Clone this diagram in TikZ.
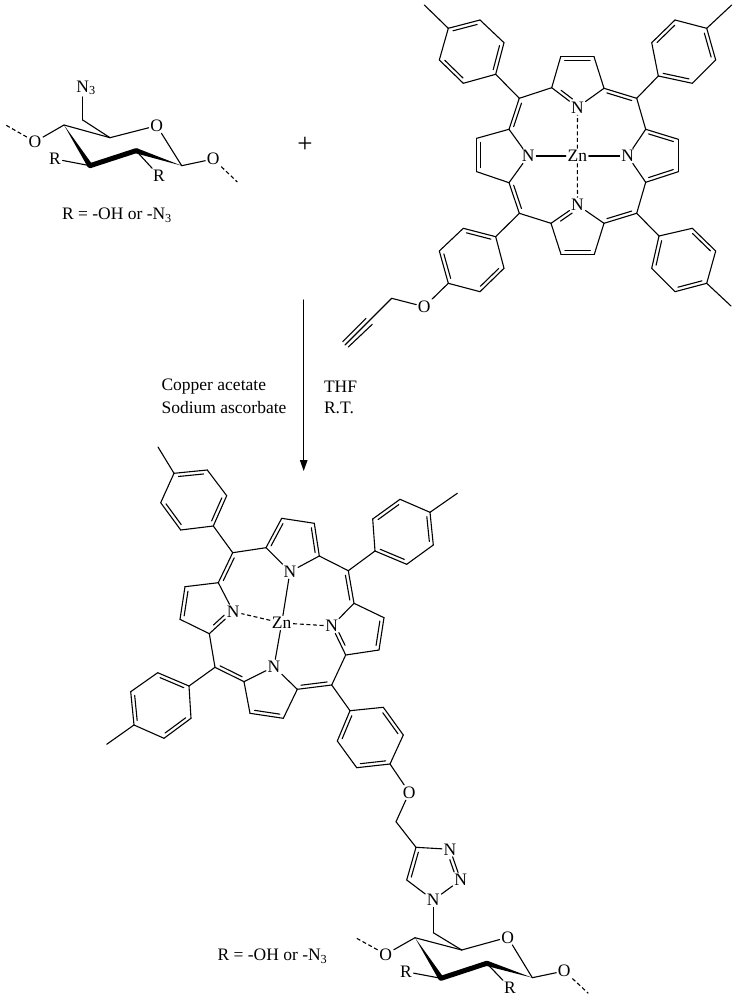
\documentclass[tikz,border=0pt]{standalone}
\usepackage{fontspec}
\setmainfont{Liberation Serif}
\usepackage{tikz}
\usetikzlibrary{arrows.meta, calc}

\tikzset{
	atom/.style={inner sep=1.2pt, font=\fontsize{17.5}{20}\selectfont},
	label text/.style={inner sep=0pt, anchor=west, font=\fontsize{17.5}{20}\selectfont},
	dash bond/.style={line cap=butt, dash pattern=on 4pt off 2.6pt},
	bold bond/.style={line width=5pt, line cap=round},
}
\newcommand{\dbond}[3][.12]{
	\draw (#2) -- (#3);
	\draw ($(#2)!#1!(#3)!3.6pt!-90:(#3)$) -- ($(#3)!#1!(#2)!3.6pt!90:(#2)$);
}
\newcommand{\wedgebond}[2]{
	\fill (#1) -- ($(#2)!2.6pt!90:(#1)$) -- ($(#2)!2.6pt!-90:(#1)$) -- cycle;
}

\begin{document}
\begin{tikzpicture}[x=1pt, y=-1pt, line width=1.1pt, line cap=round, line join=round]
		\useasboundingbox (0,0) rectangle (739,1000);

		% Azido sugar
		\coordinate (sC1) at (181.7,165.7);
		\coordinate (sC2) at (136,150.7);
		\coordinate (sC3) at (90,165.7);
		\coordinate (sC4) at (64,125);
		\coordinate (sC5) at (110,137.7);
		\coordinate (sC6) at (82.7,120);
		\coordinate (sEndL) at (5.7,125);
		\coordinate (sEndR) at (237.3,182);
		\node[atom] (sN3) at (86,88) {N\textsubscript{3}};
		\node[atom] (sO) at (156.7,125.7) {O};
		\node[atom] (sOL) at (35,141.7) {O};
		\node[atom] (sOR) at (213.3,159) {O};
		\node[atom] (sRL) at (55,159) {R};
		\node[atom] (sRR) at (159,175.7) {R};

		\draw (sC6) -- (sC6 |- sN3.south);
		\draw (sC6) -- (sC5);
		\draw (sC4) -- (sC5);
		\draw (sC5) -- (sO);
		\draw (sO) -- (sC1);
		\draw (sC4) -- (sOL);
		\draw (sC1) -- (sOR);
		\draw (sC3) -- (sRL);
		\draw (sC2) -- (sRR);
		\draw[dash bond] (sOL) -- (sEndL);
		\draw[dash bond] (sOR) -- (sEndR);
		\wedgebond{sC4}{sC3}
		\wedgebond{sC1}{sC2}
		\draw[bold bond] (sC3) -- (sC2);

		\node[label text] (sLegend) at (61.5,215) {R = -OH or -N\textsubscript{3}};
		\node[atom, font=\fontsize{27}{27}\selectfont] (plus) at (305,145) {+};

		% Zinc porphyrin
		\node[atom] (Zn) at (577.3,156) {Zn};
		\node[atom] (NN) at (577.5,107.3) {N};
		\node[atom] (NE) at (627.7,156) {N};
		\node[atom] (NS) at (577.5,205) {N};
		\node[atom] (NW) at (528.3,156) {N};
		\coordinate (mNW) at (519.3,98.3);
		\coordinate (mNE) at (636.7,98.3);
		\coordinate (mSE) at (636.7,213.3);
		\coordinate (mSW) at (519.3,213.3);
		\coordinate (pNa) at (551.7,87.7);
		\coordinate (pNb) at (560.7,56.7);
		\coordinate (pNc) at (594,56.7);
		\coordinate (pNd) at (604,88.3);
		\coordinate (pEa) at (645.7,129.3);
		\coordinate (pEb) at (678.3,139.3);
		\coordinate (pEc) at (678.3,171.7);
		\coordinate (pEd) at (645.7,182.3);
		\coordinate (pSa) at (604,223.3);
		\coordinate (pSb) at (594.3,254.3);
		\coordinate (pSc) at (561,254.3);
		\coordinate (pSd) at (551,223.3);
		\coordinate (pWa) at (509,182.7);
		\coordinate (pWb) at (476.7,171.7);
		\coordinate (pWc) at (476.7,138.3);
		\coordinate (pWd) at (509,129.3);

		\draw (Zn) -- (NE);
		\draw (Zn) -- (NW);
		\draw[dash bond] (Zn) -- (NN);
		\draw[dash bond] (Zn) -- (NS);

		\dbond[.28]{NN}{pNa}
		\draw (pNa) -- (pNb);
		\dbond{pNb}{pNc}
		\draw (pNc) -- (pNd);
		\draw (pNd) -- (NN);
		\draw (pEa) -- (NE);
		\dbond{pEa}{pEb}
		\draw (pEb) -- (pEc);
		\dbond{pEc}{pEd}
		\draw (pEd) -- (NE);
		\draw (pSa) -- (NS);
		\draw (pSa) -- (pSb);
		\dbond{pSb}{pSc}
		\draw (pSc) -- (pSd);
		\dbond[.28]{pSd}{NS}
		\draw (pWa) -- (NW);
		\draw (pWa) -- (pWb);
		\dbond{pWb}{pWc}
		\draw (pWc) -- (pWd);
		\draw (pWd) -- (NW);

		\dbond{pWd}{mNW}
		\draw (mNW) -- (pNa);
		\dbond{pNd}{mNE}
		\draw (mNE) -- (pEa);
		\draw (pEd) -- (mSE);
		\dbond{mSE}{pSa}
		\draw (pSd) -- (mSW);
		\dbond{mSW}{pWa}

		% Tolyl groups
		\coordinate (t1a) at (448.3,28.3);
		\coordinate (t1b) at (480,20);
		\coordinate (t1c) at (504,42.7);
		\coordinate (t1d) at (495.7,74.3);
		\coordinate (t1e) at (463.3,83.3);
		\coordinate (t1f) at (439.3,60);
		\coordinate (t1Me) at (424.3,5);
		\dbond{t1a}{t1b}
		\draw (t1b) -- (t1c);
		\dbond{t1c}{t1d}
		\draw (t1d) -- (t1e);
		\dbond{t1e}{t1f}
		\draw (t1f) -- (t1a);
		\draw (t1a) -- (t1Me);
		\draw (t1d) -- (mNW);

		\coordinate (t2a) at (706.7,28.3);
		\coordinate (t2b) at (715.7,60);
		\coordinate (t2c) at (692.3,83.3);
		\coordinate (t2d) at (658.3,76);
		\coordinate (t2e) at (651.7,42.7);
		\coordinate (t2f) at (675,20);
		\coordinate (t2Me) at (731.7,5);
		\dbond{t2a}{t2b}
		\draw (t2b) -- (t2c);
		\dbond{t2c}{t2d}
		\draw (t2d) -- (t2e);
		\dbond{t2e}{t2f}
		\draw (t2f) -- (t2a);
		\draw (t2a) -- (t2Me);
		\draw (t2d) -- (mNE);

		\coordinate (t3a) at (706.7,283.3);
		\coordinate (t3b) at (675,291.7);
		\coordinate (t3c) at (651.7,268.3);
		\coordinate (t3d) at (659,236);
		\coordinate (t3e) at (692.3,228.3);
		\coordinate (t3f) at (715.7,251);
		\coordinate (t3Me) at (731,306);
		\dbond{t3a}{t3b}
		\draw (t3b) -- (t3c);
		\dbond{t3c}{t3d}
		\draw (t3d) -- (t3e);
		\dbond{t3e}{t3f}
		\draw (t3f) -- (t3a);
		\draw (t3a) -- (t3Me);
		\draw (t3d) -- (mSE);

		% Propargyloxy phenyl
		\coordinate (t4a) at (448.3,283.3);
		\coordinate (t4b) at (439.3,251);
		\coordinate (t4c) at (463.3,228.3);
		\coordinate (t4d) at (495.7,236.7);
		\coordinate (t4e) at (504,268.3);
		\coordinate (t4f) at (480,291.7);
		\coordinate (pCH2) at (391.7,298.3);
		\coordinate (pYa) at (369,321);
		\coordinate (pYb) at (345,345);
		\coordinate (pYc) at (366,318.3);
		\coordinate (pYd) at (342.7,341.7);
		\coordinate (pYe) at (372.3,324.3);
		\coordinate (pYf) at (348.3,347);
		\node[atom] (pO) at (424.3,306.7) {O};
		\dbond{t4a}{t4b}
		\draw (t4b) -- (t4c);
		\dbond{t4c}{t4d}
		\draw (t4d) -- (t4e);
		\dbond{t4e}{t4f}
		\draw (t4f) -- (t4a);
		\draw (t4d) -- (mSW);
		\draw (t4a) -- (pO);
		\draw (pO) -- (pCH2);
		\draw (pCH2) -- (pYa);
		\draw (pYa) -- (pYb);
		\draw (pYc) -- (pYd);
		\draw (pYe) -- (pYf);

		% Reaction arrow
		\coordinate (arrowTop) at (303.7,300);
		\coordinate (arrowEnd) at (303.7,471);
		\draw[-{Stealth[length=11pt, width=7.5pt, inset=0pt]}] (arrowTop) -- (arrowEnd);
		\node[label text] (copper) at (161,387) {Copper acetate};
		\node[label text] (sodium) at (161,407.5) {Sodium ascorbate};
		\node[label text] (thf) at (323.5,387) {THF};
		\node[label text] (rt) at (323.5,407.5) {R.T.};

		% Product porphyrin
		\node[atom] (qZn) at (281.7,623) {Zn};
		\node[atom] (qNN) at (290,571.7) {N};
		\node[atom] (qNE) at (331.7,626) {N};
		\node[atom] (qNS) at (274,666.7) {N};
		\node[atom] (qNW) at (233.3,611.7) {N};
		\coordinate (qmNW) at (232.7,552.7);
		\coordinate (qmNE) at (348.3,570.7);
		\coordinate (qmSE) at (331.7,685);
		\coordinate (qmSW) at (215,667.3);
		\coordinate (qNa) at (266,547.7);
		\coordinate (qNb) at (281.7,518.3);
		\coordinate (qNc) at (314.3,523.3);
		\coordinate (qNd) at (319.3,556);
		\coordinate (qEa) at (354,603.3);
		\coordinate (qEb) at (384,617.7);
		\coordinate (qEc) at (379,650);
		\coordinate (qEd) at (345.7,655);
		\coordinate (qSa) at (297.3,689.3);
		\coordinate (qSb) at (283.3,718.3);
		\coordinate (qSc) at (250,713.3);
		\coordinate (qSd) at (244,681.7);
		\coordinate (qWa) at (209.3,633.7);
		\coordinate (qWb) at (180,619.3);
		\coordinate (qWc) at (185,586.7);
		\coordinate (qWd) at (218.3,582.7);

		\draw (qZn) -- (qNN);
		\draw (qZn) -- (qNS);
		\draw[dash bond] (qZn) -- (qNE);
		\draw[dash bond] (qZn) -- (qNW);

		\draw (qNN) -- (qNa);
		\dbond{qNa}{qNb}
		\draw (qNb) -- (qNc);
		\dbond{qNc}{qNd}
		\draw (qNd) -- (qNN);
		\draw (qNE) -- (qEa);
		\draw (qEa) -- (qEb);
		\dbond{qEb}{qEc}
		\draw (qEc) -- (qEd);
		\dbond[.28]{qEd}{qNE}
		\draw (qNS) -- (qSa);
		\draw (qSa) -- (qSb);
		\dbond{qSb}{qSc}
		\draw (qSc) -- (qSd);
		\draw (qSd) -- (qNS);
		\dbond[.28]{qNW}{qWa}
		\draw (qWa) -- (qWb);
		\dbond{qWb}{qWc}
		\draw (qWc) -- (qWd);
		\draw (qWd) -- (qNW);

		\dbond{qWd}{qmNW}
		\draw (qmNW) -- (qNa);
		\draw (qNd) -- (qmNE);
		\dbond{qmNE}{qEa}
		\draw (qEd) -- (qmSE);
		\dbond{qmSE}{qSa}
		\dbond{qSd}{qmSW}
		\draw (qmSW) -- (qWa);

		% Product aryl groups
		\coordinate (b1a) at (174,473.3);
		\coordinate (b1b) at (207.3,470);
		\coordinate (b1c) at (226.7,495.7);
		\coordinate (b1d) at (213.3,526);
		\coordinate (b1e) at (180.7,530);
		\coordinate (b1f) at (160.7,502.7);
		\coordinate (b1Me) at (158,447);
		\dbond{b1a}{b1b}
		\draw (b1b) -- (b1c);
		\dbond{b1c}{b1d}
		\draw (b1d) -- (b1e);
		\dbond{b1e}{b1f}
		\draw (b1f) -- (b1a);
		\draw (b1a) -- (b1Me);
		\draw (b1d) -- (qmNW);

		\coordinate (b2a) at (430,512.3);
		\coordinate (b2b) at (433.3,545);
		\coordinate (b2c) at (406.7,564.3);
		\coordinate (b2d) at (375,551);
		\coordinate (b2e) at (372.7,519);
		\coordinate (b2f) at (400,499.3);
		\coordinate (b2Me) at (457.3,493.3);
		\dbond{b2a}{b2b}
		\draw (b2b) -- (b2c);
		\dbond{b2c}{b2d}
		\draw (b2d) -- (b2e);
		\dbond{b2e}{b2f}
		\draw (b2f) -- (b2a);
		\draw (b2a) -- (b2Me);
		\draw (b2d) -- (qmNE);

		\coordinate (b3a) at (134,725);
		\coordinate (b3b) at (130.7,691.7);
		\coordinate (b3c) at (157.7,672.7);
		\coordinate (b3d) at (189,686);
		\coordinate (b3e) at (191,718.3);
		\coordinate (b3f) at (164,738.3);
		\coordinate (b3Me) at (106.7,744.3);
		\dbond{b3a}{b3b}
		\draw (b3b) -- (b3c);
		\dbond{b3c}{b3d}
		\draw (b3d) -- (b3e);
		\dbond{b3e}{b3f}
		\draw (b3f) -- (b3a);
		\draw (b3a) -- (b3Me);
		\draw (b3d) -- (qmSW);

		\coordinate (b4a) at (390,764);
		\coordinate (b4b) at (356.7,767.7);
		\coordinate (b4c) at (337.3,741);
		\coordinate (b4d) at (350,710.7);
		\coordinate (b4e) at (383.3,707.3);
		\coordinate (b4f) at (403.3,735);
		\dbond{b4a}{b4b}
		\draw (b4b) -- (b4c);
		\dbond{b4c}{b4d}
		\draw (b4d) -- (b4e);
		\dbond{b4e}{b4f}
		\draw (b4f) -- (b4a);
		\draw (b4d) -- (qmSE);

		% Triazole linker
		\node[atom] (lO) at (409.3,792.5) {O};
		\coordinate (lCH2) at (396,821.7);
		\coordinate (tzC4) at (416,847.3);
		\coordinate (tzC5) at (406.7,880);
		\node[atom] (tzN3) at (450,849.3) {N};
		\node[atom] (tzN2) at (460.7,880) {N};
		\node[atom] (tzN1) at (433.3,900) {N};
		\draw (b4a) -- (lO);
		\draw (lO) -- (lCH2);
		\draw (lCH2) -- (tzC4);
		\draw (tzC4) -- (tzN3);
		\dbond[.3]{tzN3}{tzN2}
		\draw (tzN2) -- (tzN1);
		\draw (tzN1) -- (tzC5);
		\dbond{tzC5}{tzC4}

		% Product sugar
		\coordinate (uC1) at (532.3,977.7);
		\coordinate (uC2) at (486.7,963.3);
		\coordinate (uC3) at (441,978.3);
		\coordinate (uC4) at (415,937.7);
		\coordinate (uC5) at (461.7,950);
		\coordinate (uC6) at (433.3,932.7);
		\coordinate (uEndL) at (356.7,938.3);
		\coordinate (uEndR) at (588.3,993.3);
		\node[atom] (uO) at (507.7,937.3) {O};
		\node[atom] (uOL) at (385.7,954.3) {O};
		\node[atom] (uOR) at (564.3,971) {O};
		\node[atom] (uRL) at (406,971.7) {R};
		\node[atom] (uRR) at (510,987.7) {R};

		\draw (tzN1) -- (uC6);
		\draw (uC6) -- (uC5);
		\draw (uC4) -- (uC5);
		\draw (uC5) -- (uO);
		\draw (uO) -- (uC1);
		\draw (uC4) -- (uOL);
		\draw (uC1) -- (uOR);
		\draw (uC3) -- (uRL);
		\draw (uC2) -- (uRR);
		\draw[dash bond] (uOL) -- (uEndL);
		\draw[dash bond] (uOR) -- (uEndR);
		\wedgebond{uC4}{uC3}
		\wedgebond{uC1}{uC2}
		\draw[bold bond] (uC3) -- (uC2);

		\node[label text] (uLegend) at (217,956) {R = -OH or -N\textsubscript{3}};
\end{tikzpicture}
\end{document}
